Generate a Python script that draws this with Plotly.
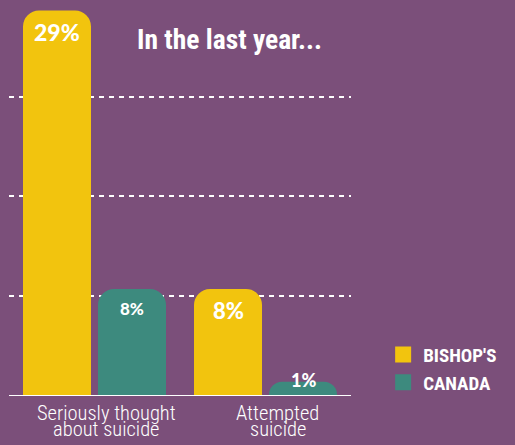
import plotly.graph_objects as go

# Survey results: share of students reporting each behaviour in the last year
categories = ["Seriously thought about suicide", "Attempted suicide"]
category_lines = [["Seriously thought", "about suicide"], ["Attempted", "suicide"]]
series_names = ["BISHOP'S", "CANADA"]
bishops_pct = [29, 8]
canada_pct = [8, 1]
grid_values = [7.5, 15, 22.5]

BG = "#7B4F7A"
YELLOW = "#F2C40E"
TEAL = "#3D8A7E"
WHITE = "#FFFFFF"

COND = "Roboto Condensed, Liberation Sans Narrow, DejaVu Sans Condensed, Roboto, sans-serif"
ROUND = "Lato, Open Sans, Roboto, sans-serif"

series = [
    (series_names[0], bishops_pct, YELLOW),
    (series_names[1], canada_pct, TEAL),
]

fig = go.Figure()

for name, values, color in series:
    fig.add_trace(go.Bar(
        x=categories, y=values, name=name,
        marker=dict(color=color, line=dict(width=0)),
        showlegend=False, hoverinfo="skip",
    ))

# square legend swatches
for name, values, color in series:
    fig.add_trace(go.Scatter(
        x=[None], y=[None], mode="markers", name=name,
        marker=dict(symbol="square", size=16, color=color),
    ))

# value labels near the top of each bar
label_style = {
    series_names[0]: dict(xshift=-37.5, sizes=[23, 22], yshift=[-21, -22]),
    series_names[1]: dict(xshift=37.5, sizes=[17, 18], yshift=[-20, 2]),
}
annotations = []
for name, values, color in series:
    st = label_style[name]
    for i, (cat, v) in enumerate(zip(categories, values)):
        annotations.append(dict(
            x=cat, y=v, xref="x", yref="y", text=f"{v}%", showarrow=False,
            xshift=st["xshift"], yshift=st["yshift"][i], yanchor="middle",
            font=dict(family=ROUND, size=st["sizes"][i], color=WHITE, weight=900),
        ))

# two-line category labels under the axis
for cat, lines in zip(categories, category_lines):
    for k, line in enumerate(lines):
        annotations.append(dict(
            x=cat, y=0, xref="x", yref="y", text=line, showarrow=False,
            xshift=12, yshift=-18 - 16 * k, yanchor="middle",
            font=dict(family=COND, size=20.5, color=WHITE, weight=300),
        ))

fig.update_layout(
    width=515, height=445,
    margin=dict(l=9, r=164, t=0, b=50),
    paper_bgcolor=BG, plot_bgcolor=BG,
    barmode="group", bargap=0.123, bargroupgap=0.093, barcornerradius=16,
    title=dict(
        text="In the last year...", x=137 / 515, xanchor="left", xref="container",
        y=1 - 39 / 445, yanchor="middle", yref="container",
        font=dict(family=COND, size=27.5, color=WHITE, weight="bold"),
    ),
    legend=dict(
        x=1.094, xanchor="left", y=0.15, yanchor="top",
        bgcolor="rgba(0,0,0,0)", font=dict(family=COND, size=19, color=WHITE, weight="bold"),
        itemsizing="trace",
    ),
    xaxis=dict(
        showticklabels=False, showgrid=False, showline=True,
        linecolor=WHITE, linewidth=1, ticks="", zeroline=False,
    ),
    yaxis=dict(
        range=[0, 29.8], tickvals=grid_values, showticklabels=False,
        showgrid=True, gridcolor=WHITE, gridwidth=2, griddash="5px,5px",
        zeroline=False, showline=False, ticks="",
    ),
    annotations=annotations,
)

fig.write_html("out.html")
